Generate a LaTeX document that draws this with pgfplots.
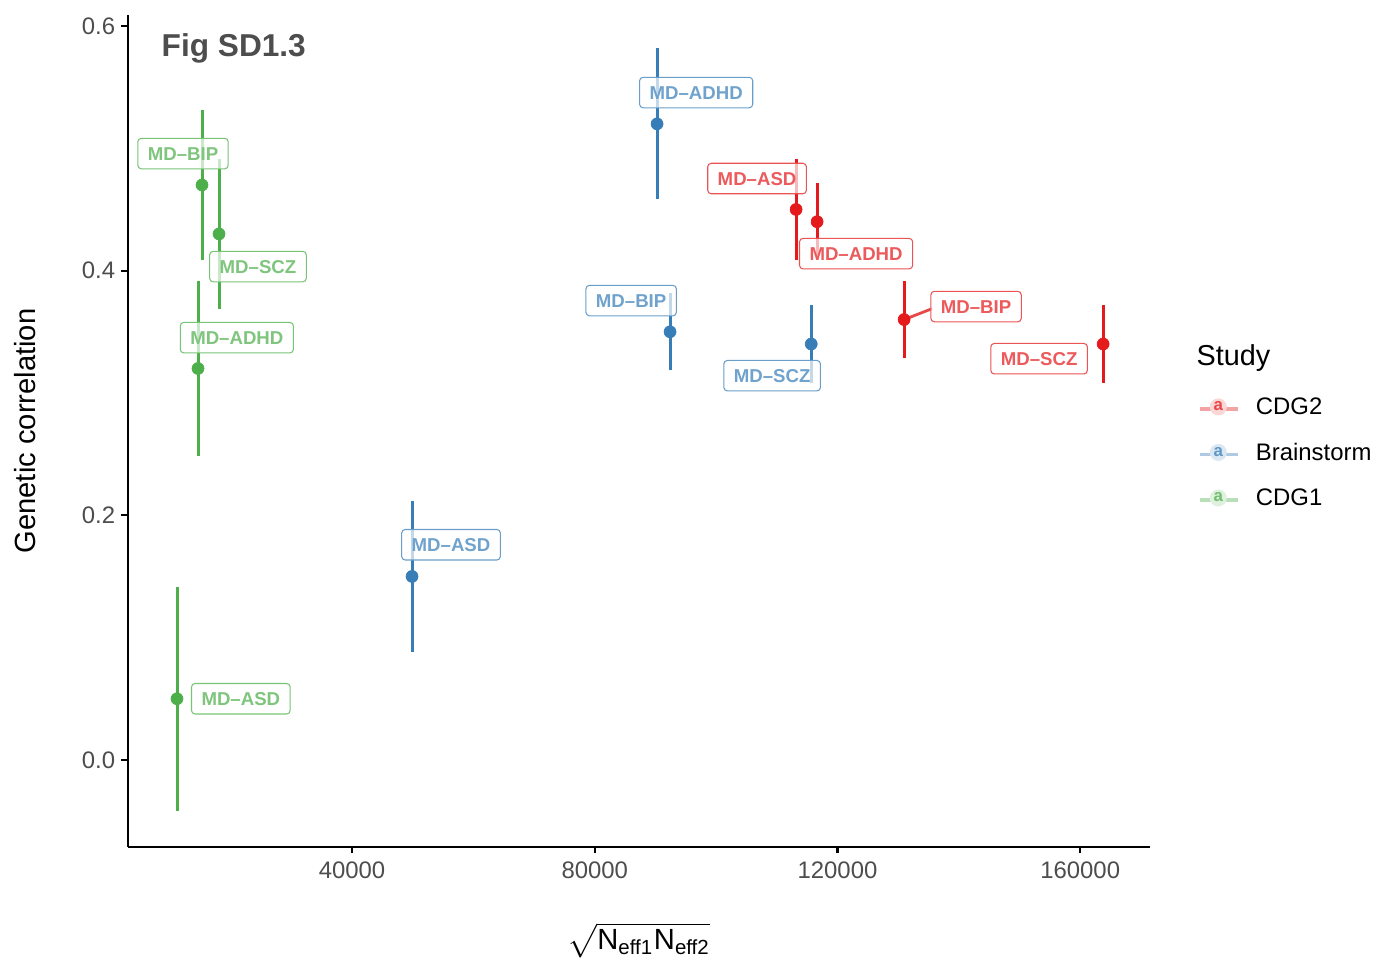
\documentclass[border=0pt]{standalone}
\usepackage{pgfplots}
\pgfplotsset{compat=1.18}
\usepackage{pgfplotstable}
\usepackage{amsmath}
\usepackage{fontspec}
\setmainfont{Liberation Sans}
\definecolor{cred}{HTML}{E41A1C}
\definecolor{cblue}{HTML}{377EB8}
\definecolor{cgreen}{HTML}{4DAF4A}
\definecolor{tickgray}{HTML}{4D4D4D}

\pgfplotstableread{
x y ep em
113180 0.45 0.04 0.04
116642 0.44 0.03 0.03
130980 0.36 0.03 0.03
163778 0.34 0.03 0.03
}\cdgtwo
\pgfplotstableread{
x y ep em
49889 0.15 0.06 0.06
90268 0.52 0.06 0.06
92410 0.35 0.03 0.03
115674 0.34 0.03 0.03
}\brainstorm
\pgfplotstableread{
x y ep em
11158 0.05 0.09 0.09
14619 0.32 0.07 0.07
15278 0.47 0.06 0.06
18080 0.43 0.06 0.06
}\cdgone

\tikzset{
  lab/.style={draw=#1!75!white, text=#1!72!white, fill=white, fill opacity=0.7, text opacity=1, draw opacity=1,
    rounded corners=0.35mm, line width=0.3pt, font=\bfseries\fontsize{5.3}{6}\selectfont,
    text height=1.35mm, text depth=0pt, inner xsep=1.0mm, inner ysep=0.85mm},
}
\newcommand{\keyimg}[1]{%
  \draw[#1!40!white, line width=0.9pt] (0cm,0cm) -- (0.38cm,0cm);
  \fill[#1!18!white] (0.18cm,0.02cm) circle (0.07cm);
  \node[anchor=center, text=#1!80!white, font=\bfseries\fontsize{4.8}{5}\selectfont, inner sep=0pt] at (0.18cm,0cm) {a};}

\begin{document}
\begin{tikzpicture}
\path[use as bounding box] (0,0) rectangle (13.76cm,9.62cm);
\begin{axis}[
  at={(1.28cm,1.15cm)}, anchor=south west,
  scale only axis, width=10.22cm, height=8.32cm,
  xmin=3080, xmax=171500, ymin=-0.0712, ymax=0.609,
  axis lines*=left, axis line style={-, line width=0.6pt, black},
  scaled x ticks=false, scaled y ticks=false,
  xtick={40000,80000,120000,160000},
  xticklabels={40000,80000,120000,160000},
  ytick={0,0.2,0.4,0.6},
  yticklabels={0.0,0.2,0.4,0.6},
  tick label style={font=\fontsize{6.8}{8}\selectfont, text=tickgray},
  xticklabel style={yshift=0.4mm},
  yticklabel style={xshift=0.6mm},
  tick style={black, line width=0.6pt},
  tick align=outside, major tick length=0.65mm,
  xtick pos=bottom, ytick pos=left,
  xlabel={$\sqrt{\text{N}_{\text{eff1}}\text{N}_{\text{eff2}}}$},
  ylabel={Genetic correlation},
  label style={font=\fontsize{8.3}{10}\selectfont},
  xlabel style={at={(axis description cs:0.5,-0.112)}, anchor=center},
  ylabel style={at={(axis description cs:-0.1008,0.5)}, anchor=center},
  legend style={at={(axis description cs:1.047,0.549)}, anchor=north west, draw=none,
    font=\fontsize{6.8}{8}\selectfont, row sep=0.92mm, column sep=0.9mm, inner sep=0pt},
  legend cell align=left,
  clip=false,
]
\addplot[only marks, mark=*, mark size=1.7pt, color=cred, line width=0.85pt,
  mark options={line width=0.2pt},
  legend image code/.code={\keyimg{cred}},
  error bars/.cd, y dir=both, y explicit, error bar style={line width=0.85pt, cred},
  error mark options={mark size=0.2mm, line width=0.85pt, cred}]
  table[x=x, y=y, y error plus=ep, y error minus=em]{\cdgtwo};
\addlegendentry{CDG2}
\addplot[only marks, mark=*, mark size=1.7pt, color=cblue, line width=0.85pt,
  mark options={line width=0.2pt},
  legend image code/.code={\keyimg{cblue}},
  error bars/.cd, y dir=both, y explicit, error bar style={line width=0.85pt, cblue},
  error mark options={mark size=0.2mm, line width=0.85pt, cblue}]
  table[x=x, y=y, y error plus=ep, y error minus=em]{\brainstorm};
\addlegendentry{Brainstorm}
\addplot[only marks, mark=*, mark size=1.7pt, color=cgreen, line width=0.85pt,
  mark options={line width=0.2pt},
  legend image code/.code={\keyimg{cgreen}},
  error bars/.cd, y dir=both, y explicit, error bar style={line width=0.85pt, cgreen},
  error mark options={mark size=0.2mm, line width=0.85pt, cgreen}]
  table[x=x, y=y, y error plus=ep, y error minus=em]{\cdgone};
\addlegendentry{CDG1}

% repel segment
\draw[cred!80!white, line width=0.8pt] (axis cs:130980,0.36) -- (axis cs:135592,0.3689);

% labels
\node[lab=cgreen] at (axis cs:12147,0.4957) {MD--BIP};
\node[lab=cgreen] at (axis cs:24505,0.4033) {MD--SCZ};
\node[lab=cgreen] at (axis cs:21018,0.3452) {MD--ADHD};
\node[lab=cgreen] at (axis cs:21677,0.05) {MD--ASD};
\node[lab=cblue] at (axis cs:96710,0.5456) {MD--ADHD};
\node[lab=cblue] at (axis cs:85998,0.3755) {MD--BIP};
\node[lab=cblue] at (axis cs:109236,0.3141) {MD--SCZ};
\node[lab=cblue] at (axis cs:56315,0.1759) {MD--ASD};
\node[lab=cred] at (axis cs:106748,0.4753) {MD--ASD};
\node[lab=cred] at (axis cs:123064,0.4139) {MD--ADHD};
\node[lab=cred] at (axis cs:142842,0.3706) {MD--BIP};
\node[lab=cred] at (axis cs:153225,0.328) {MD--SCZ};

\node[anchor=west, font=\bfseries\fontsize{9}{11}\selectfont, text=tickgray, inner sep=0pt]
  at (rel axis cs:0.0323,0.9603) {Fig SD1.3};
\node[anchor=west, font=\fontsize{8.2}{10}\selectfont, inner sep=0pt]
  at (axis description cs:1.045,0.588) {Study};
\end{axis}
\end{tikzpicture}
\end{document}
